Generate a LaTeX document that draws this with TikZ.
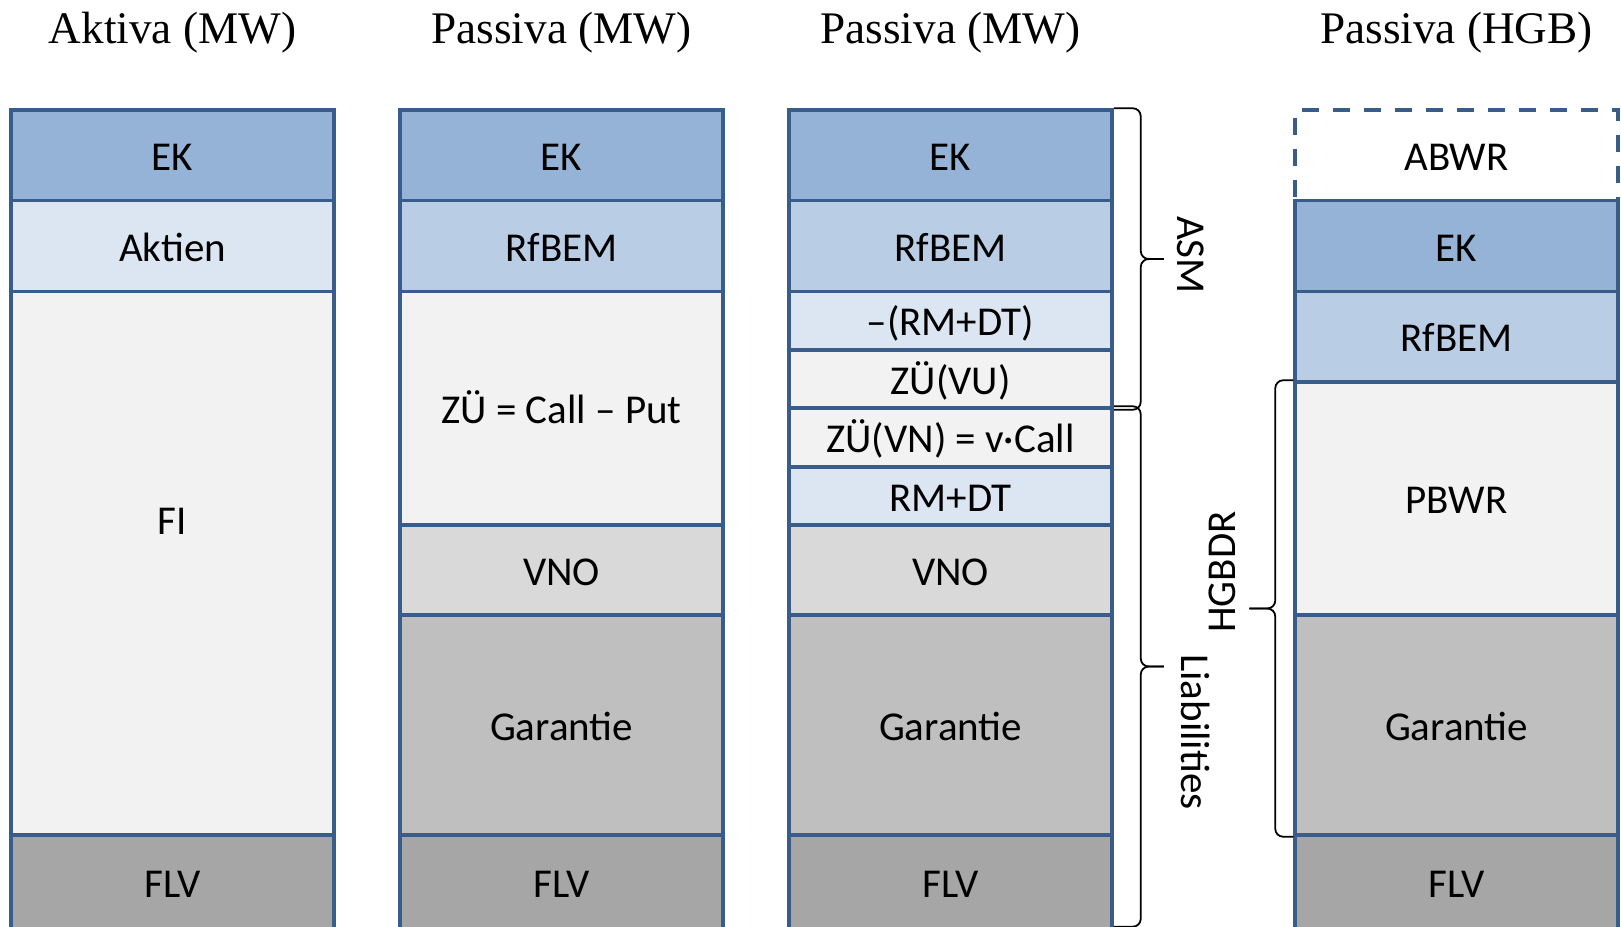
\documentclass[tikz,border=0pt]{standalone}
\usepackage{fontspec}
\setmainfont{Liberation Serif}
\newfontfamily\zellfont{Carlito}
\usetikzlibrary{calc}

\begin{document}
\begin{tikzpicture}[x=0.5pt, y=-0.5pt,
  zelle/.style={draw=colRand, line width=1.75pt, minimum width=161.5pt, inner sep=0pt,
    font=\zellfont\fontsize{20.5}{24}\selectfont, text height=15.2pt, text depth=0pt},
  titel/.style={anchor=base, font=\fontsize{22.6}{27}\selectfont},
  klammer/.style={draw=black, line width=0.9pt, rounded corners=4pt},
  klammertext/.style={font=\zellfont\fontsize{20.5}{24}\selectfont, inner sep=0pt}]

% Farben
\definecolor{colRand}{HTML}{385D8A}
\definecolor{colEK}{HTML}{95B3D7}
\definecolor{colRf}{HTML}{B9CDE5}
\definecolor{colBlass}{HTML}{DCE6F2}
\definecolor{colHell}{HTML}{F2F2F2}
\definecolor{colVNO}{HTML}{D9D9D9}
\definecolor{colGar}{HTML}{BFBFBF}
\definecolor{colFLV}{HTML}{A6A6A6}

\useasboundingbox (0,0) rectangle (1621,926);

% Spaltenkoepfe
\node[titel] (tAkt) at (172.5,43) {Aktiva (MW)};
\node[titel] (tPasA) at (561.5,43) {Passiva (MW)};
\node[titel] (tPasB) at (950.5,43) {Passiva (MW)};
\node[titel] (tHGB) at (1456.5,43) {Passiva (HGB)};

% Aktiva (MW)
\node[zelle, fill=colHell, minimum height=409.5pt] (aFI) at (172.5,519.5) {FI};
\node[zelle, fill=colEK, minimum height=45.25pt] (aEK) at (172.5,155.25) {EK};
\node[zelle, fill=colBlass, minimum height=45.5pt] (aAkt) at (172.5,246) {Aktien};
\node[zelle, fill=colFLV, minimum height=47pt] (aFLV) at (172.5,882) {FLV};

% Passiva (MW), links
\node[zelle, fill=colEK, minimum height=45.25pt] (bEK) at (561.5,155.25) {EK};
\node[zelle, fill=colRf, minimum height=45.5pt] (bRf) at (561.5,246) {RfBEM};
\node[zelle, fill=colHell, minimum height=116.75pt] (bZU) at (561.5,408.25) {ZÜ = Call – Put};
\node[zelle, fill=colVNO, minimum height=45pt] (bVNO) at (561.5,570) {VNO};
\node[zelle, fill=colGar, minimum height=110pt] (bGar) at (561.5,725) {Garantie};
\node[zelle, fill=colFLV, minimum height=47pt] (bFLV) at (561.5,882) {FLV};

% Passiva (MW), aufgeteilt
\node[zelle, fill=colEK, minimum height=45.25pt] (cEK) at (950.5,155.25) {EK};
\node[zelle, fill=colRf, minimum height=45.5pt] (cRf) at (950.5,246) {RfBEM};
\node[zelle, fill=colBlass, minimum height=29.25pt] (cRMneg) at (950.5,320.75) {–(RM+DT)};
\node[zelle, fill=colHell, minimum height=29pt] (cVU) at (950.5,379) {ZÜ(VU)};
\node[zelle, fill=colHell, minimum height=29.5pt] (cVN) at (950.5,437.5) {ZÜ(VN) = v·Call};
\node[zelle, fill=colBlass, minimum height=29pt] (cRM) at (950.5,496) {RM+DT};
\node[zelle, fill=colVNO, minimum height=45pt] (cVNO) at (950.5,570) {VNO};
\node[zelle, fill=colGar, minimum height=110pt] (cGar) at (950.5,725) {Garantie};
\node[zelle, fill=colFLV, minimum height=47pt] (cFLV) at (950.5,882) {FLV};

% Passiva (HGB)
\node[zelle, fill=white, dash pattern=on 8.5pt off 7pt, minimum height=45.25pt] (dABWR) at (1456.5,155.25) {ABWR};
\node[zelle, fill=colEK, minimum height=45.5pt] (dEK) at (1456.5,246) {EK};
\node[zelle, fill=colRf, minimum height=45.25pt] (dRf) at (1456.5,336.75) {RfBEM};
\node[zelle, fill=colHell, minimum height=116.5pt] (dPB) at (1456.5,498.5) {PBWR};
\node[zelle, fill=colGar, minimum height=110pt] (dGar) at (1456.5,725) {Garantie};
\node[zelle, fill=colFLV, minimum height=47pt] (dFLV) at (1456.5,882) {FLV};

% Klammern
\coordinate (asmO) at (cEK.north east);
\coordinate (asmU) at (cVU.south east);
\coordinate (asmM) at ($(asmO)!0.5!(asmU)$);
\draw[klammer] (asmO) -- ++(27,0) -- ($(asmM)+(27,0)$) -- ($(asmM)+(50,0)$);
\draw[klammer] ($(asmM)+(50,0)$) -- ($(asmM)+(27,0)$) -- ($(asmU)+(27,0)$) -- (asmU);

\coordinate (liaO) at (cVN.north east);
\coordinate (liaU) at ($(cFLV.south east)+(0,-4)$);
\coordinate (liaM) at ($(liaO)!0.5!(liaU)$);
\draw[klammer] (liaO) -- ++(27,0) -- ($(liaM)+(27,0)$) -- ($(liaM)+(50,0)$);
\draw[klammer] ($(liaM)+(50,0)$) -- ($(liaM)+(27,0)$) -- ($(liaU)+(27,0)$) -- (liaU);

\coordinate (hgbO) at (dPB.north west);
\coordinate (hgbU) at (dGar.south west);
\coordinate (hgbM) at ($(hgbO)!0.5!(hgbU)$);
\draw[klammer] (hgbO) -- ++(-18,0) -- ($(hgbM)+(-18,0)$) -- ($(hgbM)+(-44,0)$);
\draw[klammer] ($(hgbM)+(-44,0)$) -- ($(hgbM)+(-18,0)$) -- ($(hgbU)+(-18,0)$) -- (hgbU);

\node[klammertext, rotate=-90] (lASM) at (1191,255) {ASM};
\node[klammertext, rotate=90] (lHGBDR) at (1222,572) {HGBDR};
\node[klammertext, rotate=-90] (lLiab) at (1196,732) {Liabilities};

\end{tikzpicture}
\end{document}
